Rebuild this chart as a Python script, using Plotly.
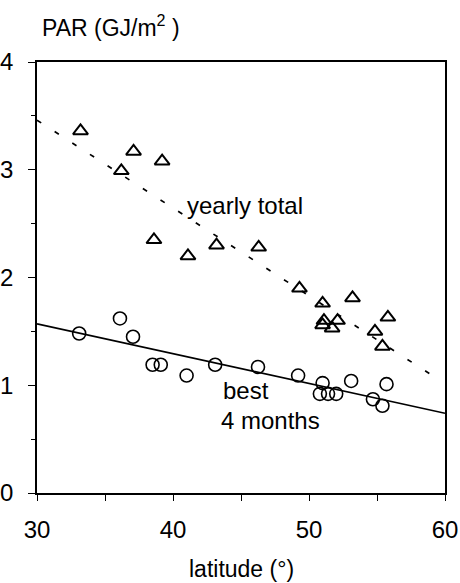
import plotly.graph_objects as go

# Yearly total PAR by site
yearly_lat = [33.2, 36.2, 37.1, 39.2, 38.6, 41.1, 43.2, 46.3, 49.3, 51.0,
              51.1, 51.0, 51.7, 52.1, 53.2, 54.85, 55.4, 55.8]
yearly_par = [3.36, 2.99, 3.17, 3.08, 2.35, 2.20, 2.30, 2.28, 1.90, 1.76,
              1.60, 1.56, 1.53, 1.60, 1.81, 1.50, 1.36, 1.63]

# PAR of the best 4 months by site
best_lat = [33.1, 36.1, 37.06, 38.5, 39.1, 41.0, 43.1, 46.25, 49.2, 51.0,
            50.8, 51.4, 52.0, 53.1, 54.7, 55.4, 55.7]
best_par = [1.48, 1.62, 1.45, 1.19, 1.19, 1.09, 1.19, 1.17, 1.09, 1.02,
            0.92, 0.92, 0.92, 1.04, 0.87, 0.81, 1.01]

# Regression lines (end points)
yearly_fit_lat = [30, 59.2]
yearly_fit_par = [3.46, 1.08]
best_fit_lat = [30, 60]
best_fit_par = [1.57, 0.74]

x_ticks = [30, 40, 50, 60]
y_ticks = [0, 1, 2, 3, 4]

FONT = "Liberation Sans, Arial, sans-serif"

fig = go.Figure()

fig.add_trace(go.Scatter(
    x=yearly_fit_lat, y=yearly_fit_par, mode="lines",
    line=dict(color="black", width=1.7, dash="5px,16px"),
    showlegend=False, hoverinfo="skip"))
fig.add_trace(go.Scatter(
    x=best_fit_lat, y=best_fit_par, mode="lines",
    line=dict(color="black", width=1.6),
    showlegend=False, hoverinfo="skip"))

fig.add_trace(go.Scatter(
    x=yearly_lat, y=yearly_par, mode="markers",
    marker=dict(symbol="triangle-up-open", size=13, color="black",
                line=dict(width=2, color="black")),
    showlegend=False))
fig.add_trace(go.Scatter(
    x=best_lat, y=best_par, mode="markers",
    marker=dict(symbol="circle-open", size=13, color="black",
                line=dict(width=1.6, color="black")),
    showlegend=False))

fig.add_annotation(x=40.9, y=2.67, xref="x", yref="y", text="yearly total",
                   showarrow=False, xanchor="left", yanchor="middle",
                   font=dict(size=24, color="black", family=FONT))
fig.add_annotation(x=43.5, y=0.95, xref="x", yref="y", text="best",
                   showarrow=False, xanchor="left", yanchor="middle",
                   font=dict(size=24, color="black", family=FONT))
fig.add_annotation(x=43.4, y=0.67, xref="x", yref="y", text="4 months",
                   showarrow=False, xanchor="left", yanchor="middle",
                   font=dict(size=24, color="black", family=FONT))

# Axis titles
fig.add_annotation(x=0.0, y=1.0, xref="paper", yref="paper",
                   text="PAR (GJ/m<sup>2</sup> )", showarrow=False,
                   xanchor="left", yanchor="middle", yshift=36, xshift=3,
                   font=dict(size=23, color="black", family=FONT))
fig.add_annotation(x=0.5, y=0, xref="paper", yref="paper",
                   text="latitude (°)", showarrow=False,
                   xanchor="center", yanchor="middle", yshift=-76,
                   font=dict(size=23, color="black", family=FONT))

axis_common = dict(showgrid=False, zeroline=False, showline=True,
                   linecolor="black", linewidth=1.6, mirror=True,
                   ticks="outside", tickcolor="black", tickwidth=1.4,
                   automargin=False,
                   tickfont=dict(size=24, color="black", family=FONT))

fig.update_xaxes(range=[30, 60], tickvals=x_ticks, ticklen=6,
                 minor=dict(dtick=5, ticklen=6, tickcolor="black", ticks="outside"),
                 ticklabelstandoff=8, **axis_common)
fig.update_yaxes(range=[0, 4], tickvals=y_ticks, ticklen=7,
                 minor=dict(dtick=0.5, ticklen=4, tickcolor="black", ticks="outside"),
                 ticklabelstandoff=10, **axis_common)

fig.update_layout(
    width=460, height=583,
    margin=dict(l=37, r=15, t=62, b=90),
    plot_bgcolor="white", paper_bgcolor="white",
    font=dict(family=FONT, color="black"),
)

fig.write_html("out.html")
